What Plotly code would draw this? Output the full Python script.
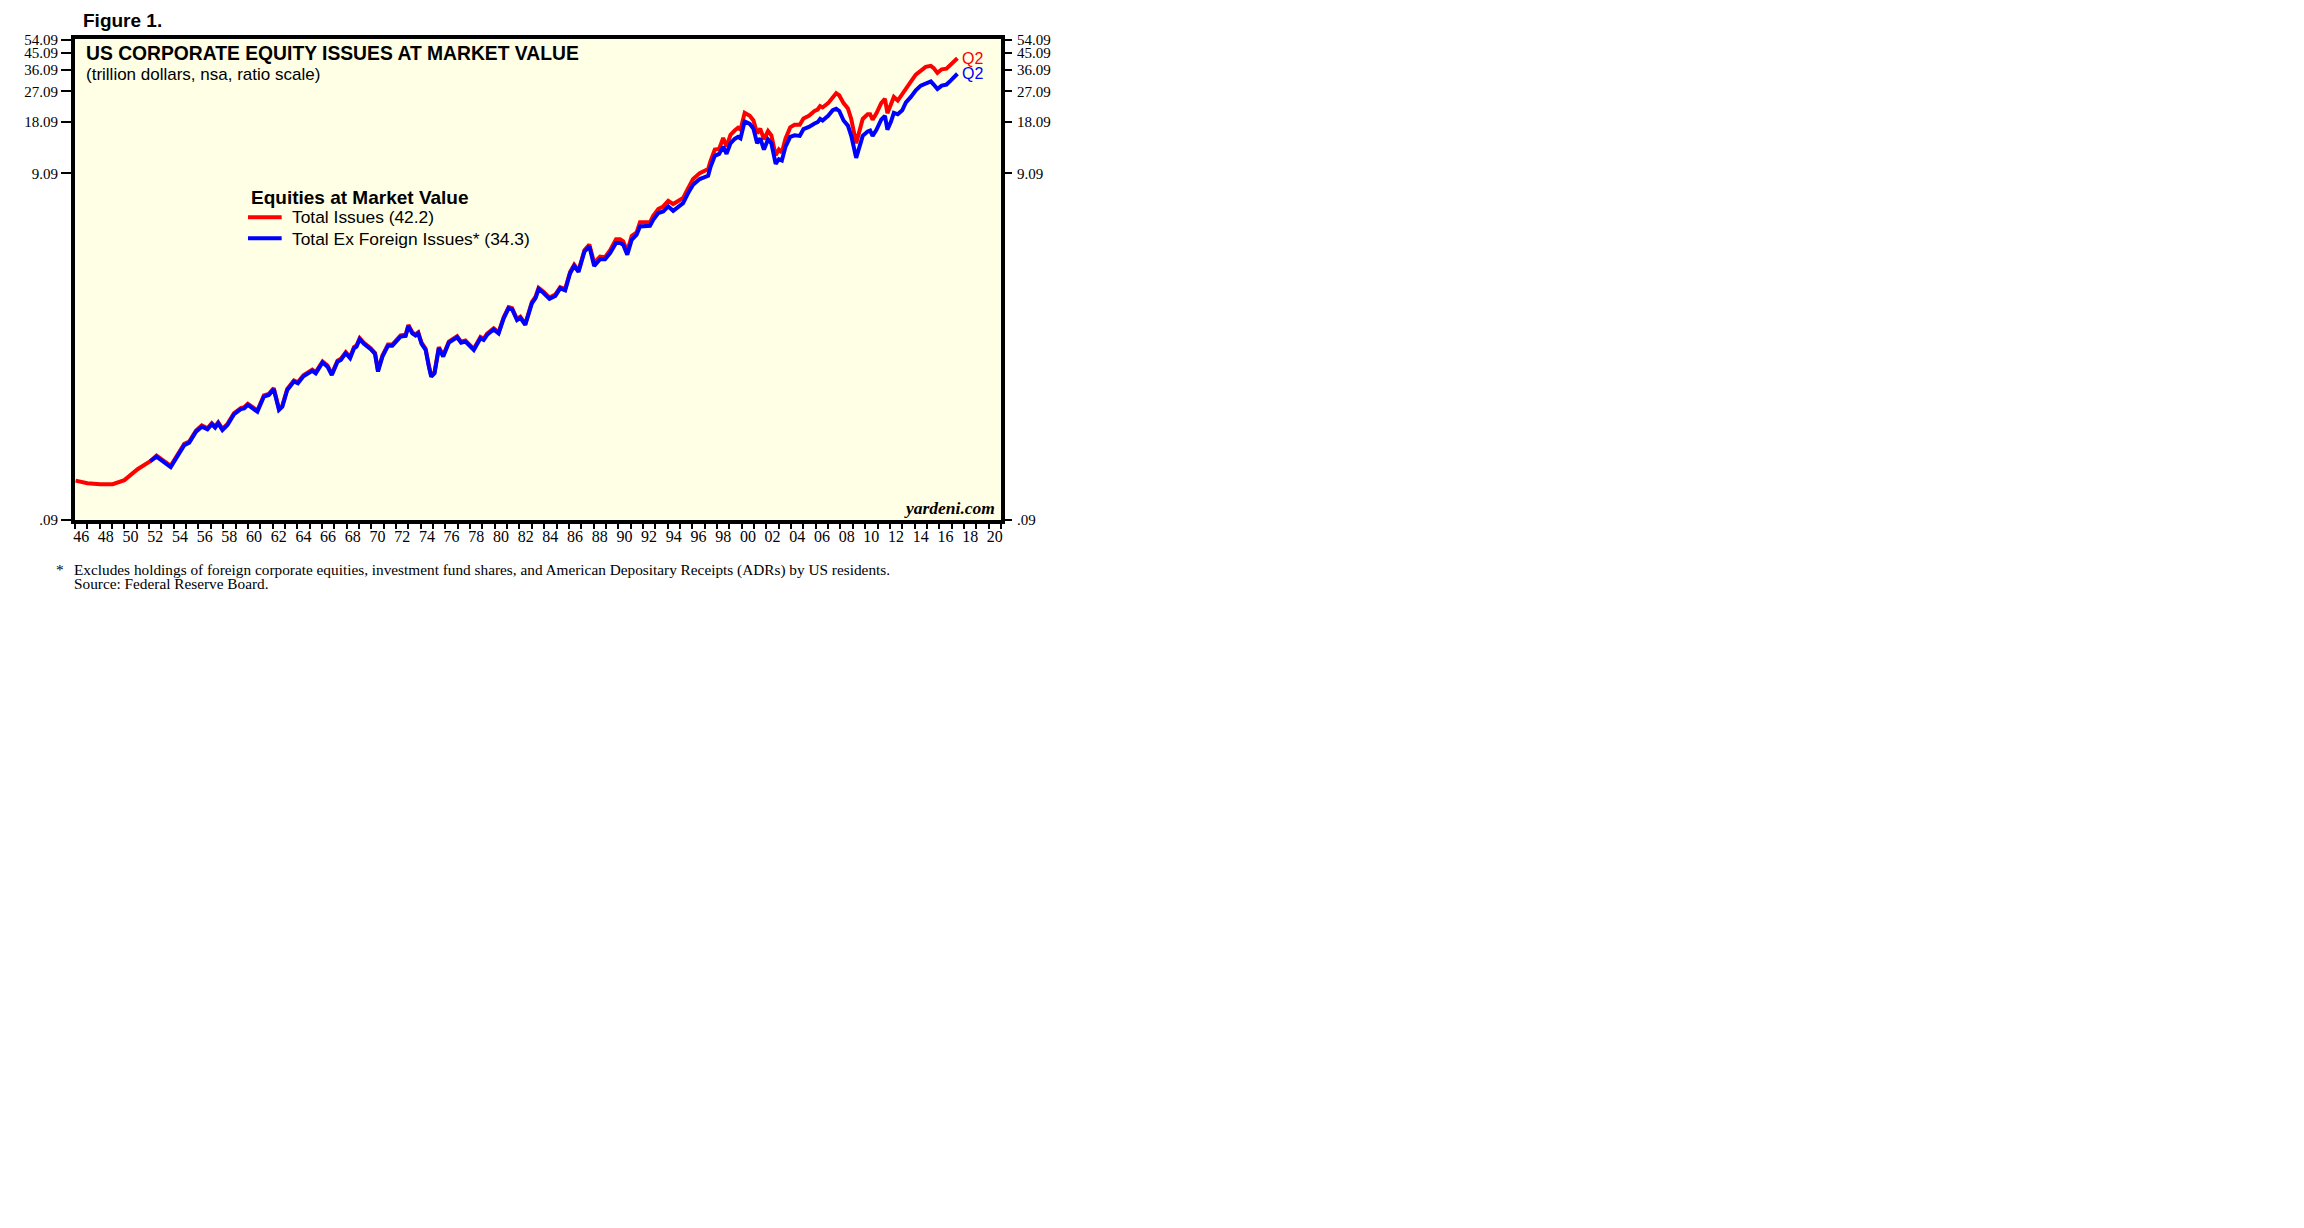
import numpy as np
import plotly.graph_objects as go

# ---------------- data (trillion dollars) ----------------
years_early = [1946.05, 1947.0, 1948.05, 1949.05, 1950.0, 1951.07]
total_early = [0.152, 0.147, 0.145, 0.145, 0.153, 0.177]

years = [
    1952.1, 1952.6, 1953.75, 1954.3, 1954.85, 1955.25, 1955.8, 1956.27, 1956.73, 1957.08,
    1957.35, 1957.6, 1957.94, 1958.35, 1958.88, 1959.43, 1959.7, 1960.0, 1960.36, 1960.77,
    1961.3, 1961.7, 1962.1, 1962.52, 1962.79, 1963.19, 1963.73, 1964.05, 1964.5, 1965.22,
    1965.5, 1966.05, 1966.45, 1966.8, 1967.26, 1967.53, 1967.93, 1968.28, 1968.6, 1968.8,
    1969.06, 1969.4, 1969.95, 1970.3, 1970.54, 1970.9, 1971.35, 1971.7, 1972.37, 1972.78,
    1973.0, 1973.32, 1973.58, 1973.8, 1974.07, 1974.4, 1974.66, 1974.85, 1975.12, 1975.47,
    1975.82, 1976.28, 1976.95, 1977.27, 1977.62, 1978.3, 1978.84, 1979.1, 1979.38, 1979.91,
    1980.31, 1980.72, 1981.12, 1981.4, 1981.8, 1982.07, 1982.47, 1983.0, 1983.3, 1983.55,
    1983.95, 1984.43, 1984.9, 1985.3, 1985.7, 1986.1, 1986.43, 1986.78, 1987.26, 1987.66,
    1988.05, 1988.53, 1988.93, 1989.34, 1989.82, 1990.15, 1990.4, 1990.73, 1991.09, 1991.49,
    1991.76, 1992.16, 1992.57, 1992.83, 1993.24, 1993.64, 1994.05, 1994.45, 1994.85, 1995.25,
    1995.66, 1996.06, 1996.6, 1997.28, 1997.47, 1997.82, 1998.17, 1998.5, 1998.77, 1999.09,
    1999.43, 1999.7, 1999.9, 2000.24, 2000.65, 2000.95, 2001.25, 2001.5, 2001.8, 2002.13,
    2002.4, 2002.75, 2003.01, 2003.25, 2003.55, 2003.93, 2004.28, 2004.7, 2005.0, 2005.44,
    2005.9, 2006.15, 2006.35, 2006.55, 2007.0, 2007.37, 2007.65, 2007.9, 2008.25, 2008.6,
    2008.87, 2009.27, 2009.53, 2009.8, 2010.2, 2010.4, 2010.6, 2010.9, 2011.3, 2011.6,
    2011.8, 2012.1, 2012.32, 2012.64, 2013.0, 2013.3, 2013.7, 2014.1, 2014.5, 2014.9,
    2015.32, 2015.55, 2015.85, 2016.2, 2016.58, 2016.92, 2017.28, 2017.47,
]

total_issues = [
    0.197, 0.212, 0.185, 0.212, 0.248, 0.256, 0.296, 0.317, 0.305, 0.327,
    0.313, 0.331, 0.303, 0.324, 0.374, 0.400, 0.404, 0.423, 0.404, 0.387,
    0.473, 0.483, 0.521, 0.396, 0.413, 0.516, 0.578, 0.564, 0.619, 0.666,
    0.645, 0.744, 0.704, 0.630, 0.752, 0.770, 0.842, 0.788, 0.900, 0.920,
    1.015, 0.954, 0.888, 0.834, 0.660, 0.805, 0.932, 0.932, 1.051, 1.061,
    1.208, 1.096, 1.066, 1.096, 0.954, 0.880, 0.704, 0.616, 0.645, 0.900,
    0.805, 0.969, 1.041, 0.969, 0.983, 0.880, 1.029, 1.005, 1.076, 1.157,
    1.096, 1.340, 1.533, 1.512, 1.309, 1.350, 1.228, 1.64, 1.76, 1.98,
    1.88, 1.74, 1.81, 2.00, 1.95, 2.45, 2.70, 2.49, 3.27, 3.53,
    2.76, 3.00, 2.98, 3.27, 3.78, 3.78, 3.68, 3.22, 3.96, 4.15,
    4.74, 4.74, 4.74, 5.18, 5.66, 5.86, 6.32, 6.05, 6.26, 6.55,
    7.48, 8.44, 9.14, 9.64, 10.7, 12.5, 12.6, 14.6, 13.0, 15.2,
    16.1, 16.7, 16.3, 20.4, 19.6, 18.4, 15.5, 16.5, 14.3, 16.0,
    15.1, 11.6, 12.5, 12.0, 14.5, 16.8, 17.4, 17.4, 18.9, 19.6,
    20.9, 21.3, 22.3, 21.9, 23.2, 25.0, 26.5, 25.7, 23.2, 21.6,
    18.8, 13.6, 15.9, 18.8, 20.0, 20.0, 18.6, 20.2, 23.2, 24.6,
    20.3, 22.8, 25.2, 24.0, 26.3, 28.3, 30.9, 33.9, 35.9, 37.6,
    38.1, 37.0, 34.7, 36.4, 36.7, 39.0, 41.0, 42.2,
]

ex_foreign = [
    0.197, 0.209, 0.182, 0.209, 0.244, 0.252, 0.292, 0.312, 0.301, 0.322,
    0.308, 0.326, 0.298, 0.319, 0.368, 0.394, 0.398, 0.417, 0.398, 0.381,
    0.466, 0.476, 0.513, 0.390, 0.407, 0.508, 0.569, 0.556, 0.610, 0.656,
    0.635, 0.733, 0.694, 0.621, 0.741, 0.759, 0.830, 0.776, 0.887, 0.906,
    1.00, 0.94, 0.875, 0.822, 0.650, 0.793, 0.918, 0.918, 1.035, 1.045,
    1.19, 1.08, 1.05, 1.08, 0.94, 0.867, 0.694, 0.607, 0.635, 0.887,
    0.793, 0.955, 1.026, 0.955, 0.968, 0.867, 1.014, 0.99, 1.06, 1.14,
    1.08, 1.32, 1.51, 1.49, 1.29, 1.33, 1.21, 1.61, 1.73, 1.95,
    1.85, 1.71, 1.78, 1.97, 1.92, 2.41, 2.65, 2.45, 3.21, 3.44,
    2.65, 2.90, 2.90, 3.15, 3.60, 3.60, 3.52, 3.08, 3.76, 4.02,
    4.49, 4.53, 4.53, 4.91, 5.37, 5.48, 5.86, 5.53, 5.81, 6.12,
    7.0, 7.82, 8.44, 8.82, 9.9, 11.5, 11.8, 13.0, 11.8, 13.6,
    14.4, 14.8, 14.5, 18.2, 17.6, 16.5, 13.6, 14.5, 12.5, 14.3,
    13.6, 10.35, 11.0, 10.8, 13.0, 14.8, 15.1, 15.0, 16.4, 16.9,
    17.7, 18.0, 18.8, 18.4, 19.6, 21.1, 21.5, 20.9, 18.4, 17.2,
    15.0, 11.2, 12.9, 15.0, 15.9, 16.1, 15.0, 16.2, 18.6, 19.6,
    16.3, 18.2, 20.4, 20.0, 21.1, 23.4, 25.2, 27.5, 29.3, 30.3,
    31.0, 29.7, 28.0, 29.3, 29.7, 31.3, 33.5, 34.3,
]

legend_title = "Equities at Market Value"
series_names = ["Total Issues (42.2)", "Total Ex Foreign Issues* (34.3)"]
y_tick_vals = [0.09, 9.09, 18.09, 27.09, 36.09, 45.09, 54.09]
y_tick_text = [".09", "9.09", "18.09", "27.09", "36.09", "45.09", "54.09"]
x_label_years = [1946, 1948, 1950, 1952, 1954, 1956, 1958, 1960, 1962, 1964,
                 1966, 1968, 1970, 1972, 1974, 1976, 1978, 1980, 1982, 1984,
                 1986, 1988, 1990, 1992, 1994, 1996, 1998, 2000, 2002, 2004,
                 2006, 2008, 2010, 2012, 2014, 2016, 2018, 2020]
x_label_text = ["46", "48", "50", "52", "54", "56", "58", "60", "62", "64",
                "66", "68", "70", "72", "74", "76", "78", "80", "82", "84",
                "86", "88", "90", "92", "94", "96", "98", "00", "02", "04",
                "06", "08", "10", "12", "14", "16", "18", "20"]

# ---------------- styling ----------------
RED = "#FF0000"
BLUE = "#0000FF"
BG = "#FFFFE6"
SERIF = "Liberation Serif, Times New Roman, serif"
SANS = "Liberation Sans, Arial, sans-serif"
LW = 4

fig = go.Figure()
fig.add_trace(go.Scatter(
    x=years_early + years, y=total_early + total_issues,
    mode="lines", name=series_names[0], showlegend=False,
    line=dict(color=RED, width=LW), yaxis="y",
))
fig.add_trace(go.Scatter(
    x=years, y=ex_foreign,
    mode="lines", name=series_names[1], showlegend=False,
    line=dict(color=BLUE, width=LW), yaxis="y2",
))

yrange = [np.log10(0.09), np.log10(54.5)]
common_y = dict(
    type="log", range=yrange, tickmode="array", tickvals=y_tick_vals, ticktext=y_tick_text,
    ticks="outside", ticklen=10, tickwidth=1.5, tickcolor="black",
    showgrid=False, zeroline=False,
    tickfont=dict(family=SERIF, size=15, color="black"),
)

fig.update_layout(
    width=2288, height=1212,
    margin=dict(l=67, r=1295, t=31, b=700, pad=0),
    paper_bgcolor="white", plot_bgcolor=BG,
    showlegend=False,
    xaxis=dict(
        range=[1946, 2021], tickmode="array",
        tickvals=[y + 0.5 for y in x_label_years], ticktext=x_label_text,
        ticks="", showgrid=False, zeroline=False, ticklabelstandoff=-1,
        showline=True, linewidth=4, linecolor="black", mirror=True,
        tickfont=dict(family=SERIF, size=16, color="black"),
        minor=dict(tick0=1946, dtick=1, ticks="outside", ticklen=5, tickwidth=2,
                   tickcolor="black", showgrid=False),
    ),
    yaxis=dict(showline=True, linewidth=4, linecolor="black", mirror=True, side="left", **common_y),
    yaxis2=dict(overlaying="y", side="right", showline=False, ticklabelstandoff=2, **common_y),
)

annotations = [
    dict(text="<b>Figure 1.</b>", x=0.0065, y=1.038, xanchor="left", yanchor="middle",
         font=dict(family=SANS, size=19, color="black")),
    dict(text="<b>US CORPORATE EQUITY ISSUES AT MARKET VALUE</b>", x=0.0092, y=0.9695,
         xanchor="left", yanchor="middle", font=dict(family=SANS, size=19.3, color="black")),
    dict(text="(trillion dollars, nsa, ratio scale)", x=0.0092, y=0.9262,
         xanchor="left", yanchor="middle", font=dict(family=SANS, size=17, color="black")),
    dict(text="<b><i>yardeni.com</i></b>", x=0.996, y=0.0249, xanchor="right", yanchor="middle",
         font=dict(family=SERIF, size=17.5, color="black")),
    dict(text="*", x=-0.0232, y=-0.103, xanchor="left", yanchor="middle",
         font=dict(family=SERIF, size=15.3, color="black")),
    dict(text="Excludes holdings of foreign corporate equities, investment fund shares, and American Depositary Receipts (ADRs) by US residents.",
         x=-0.003, y=-0.103, xanchor="left", yanchor="middle",
         font=dict(family=SERIF, size=15.3, color="black")),
    dict(text="Source: Federal Reserve Board.", x=-0.003, y=-0.132, xanchor="left", yanchor="middle",
         font=dict(family=SERIF, size=15.3, color="black")),
    # legend block
    dict(text="<b>" + legend_title + "</b>", x=0.1879, y=0.6715, xanchor="left", yanchor="middle",
         font=dict(family=SANS, size=19, color="black")),
    dict(text=series_names[0], x=0.2322, y=0.6299, xanchor="left", yanchor="middle",
         font=dict(family=SANS, size=17.4, color="black")),
    dict(text=series_names[1], x=0.2322, y=0.5852, xanchor="left", yanchor="middle",
         font=dict(family=SANS, size=17.4, color="black")),
]
for a in annotations:
    a.update(xref="paper", yref="paper", showarrow=False)

annotations += [
    dict(text="Q2", x=years[-1], y=np.log10(total_issues[-1]), xref="x", yref="y",
         xanchor="left", yanchor="middle", xshift=3, showarrow=False,
         font=dict(family=SANS, size=16, color=RED)),
    dict(text="Q2", x=years[-1], y=np.log10(ex_foreign[-1]), xref="x", yref="y",
         xanchor="left", yanchor="middle", xshift=3, showarrow=False,
         font=dict(family=SANS, size=16, color=BLUE)),
]

legend_samples = [
    dict(type="line", xref="paper", yref="paper", x0=0.1868, x1=0.2232, y0=0.6293, y1=0.6293,
         line=dict(color=RED, width=4)),
    dict(type="line", xref="paper", yref="paper", x0=0.1868, x1=0.2232, y0=0.5857, y1=0.5857,
         line=dict(color=BLUE, width=4)),
]
fig.update_layout(annotations=annotations, shapes=legend_samples)

fig.write_html("out.html")
